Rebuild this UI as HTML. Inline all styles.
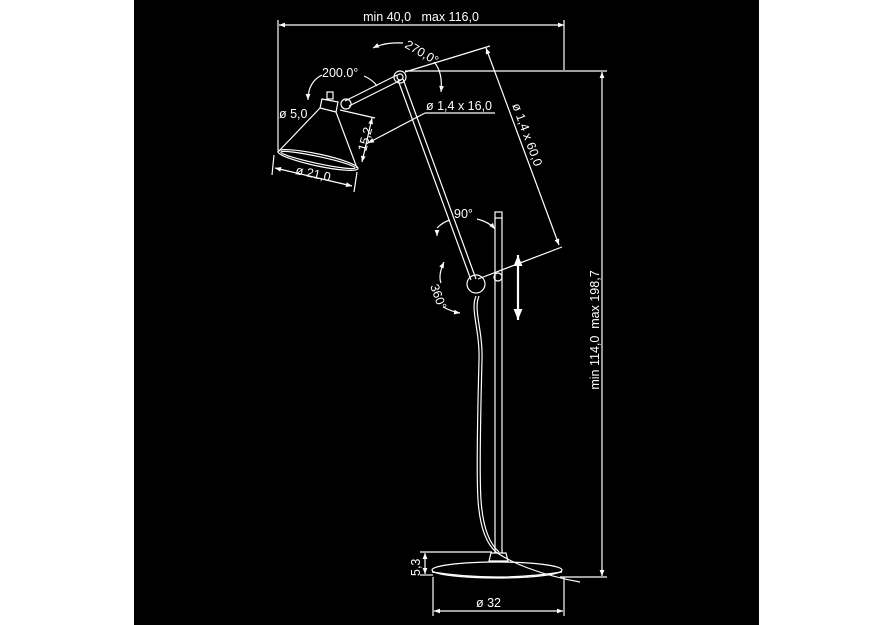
<!DOCTYPE html>
<html><head><meta charset="utf-8"><style>
html,body{margin:0;padding:0;background:#fff;}
svg{display:block;}
text{font-family:"Liberation Sans",sans-serif;fill:#fff;font-size:12.5px;}
</style></head><body>
<svg width="893" height="625" viewBox="0 0 893 625" xmlns="http://www.w3.org/2000/svg">
<defs>
<marker id="a" viewBox="0 0 10 10" refX="10" refY="5" markerWidth="7" markerHeight="5" orient="auto-start-reverse"><path d="M0,1 L10,5 L0,9 z" fill="#fff"/></marker>
</defs>
<rect x="134" y="0" width="625" height="625" fill="#000"/>
<g stroke="#fff" stroke-width="1.2" fill="none">
<line x1="279" y1="25" x2="564" y2="25" marker-start="url(#a)" marker-end="url(#a)"/>
<line x1="278" y1="20" x2="278" y2="150"/>
<line x1="564" y1="20" x2="564" y2="70"/>
<line x1="405" y1="71" x2="607" y2="71"/>
<line x1="602" y1="72" x2="602" y2="576" marker-start="url(#a)" marker-end="url(#a)"/>
<line x1="560" y1="577" x2="607" y2="577"/>
<line x1="397" y1="75" x2="345" y2="101"/>
<line x1="401" y1="80" x2="349" y2="106"/>
<line x1="398" y1="80" x2="471" y2="280"/>
<line x1="403" y1="79" x2="476" y2="279"/>
<circle cx="400" cy="77" r="6"/><circle cx="400" cy="77" r="3"/>
<circle cx="346" cy="104" r="5"/>
<circle cx="476" cy="284" r="9"/>
<rect x="495" y="212" width="7" height="6"/>
<line x1="495" y1="218" x2="495" y2="553"/>
<line x1="502" y1="218" x2="502" y2="553"/>
<circle cx="498" cy="277" r="4"/>
<rect x="327" y="92" width="6" height="7"/>
<path d="M322,99 L338,102 L336,112 L320,108 z"/>
<path d="M320,108 L278,152 M336,112 L357,168"/>
<ellipse cx="318" cy="160" rx="41" ry="6" transform="rotate(12 318 160)"/>
<ellipse cx="318" cy="160" rx="38" ry="3.5" transform="rotate(12 318 160)"/>
<line x1="275" y1="168" x2="352" y2="186" marker-start="url(#a)" marker-end="url(#a)"/>
<line x1="274" y1="155" x2="272" y2="175"/>
<line x1="357" y1="172" x2="354" y2="192"/>
<line x1="340" y1="110" x2="375" y2="118"/>
<line x1="372" y1="118" x2="362" y2="162" marker-start="url(#a)" marker-end="url(#a)"/>
<line x1="425" y1="113" x2="495" y2="113"/>
<line x1="425" y1="113" x2="368" y2="143" marker-end="url(#a)"/>
<line x1="405" y1="72" x2="490" y2="46"/>
<line x1="478" y1="279" x2="562" y2="247"/>
<line x1="486" y1="48" x2="559" y2="245" marker-start="url(#a)" marker-end="url(#a)"/>
<path d="M403,43 Q385,42 373,48" marker-end="url(#a)"/>
<path d="M434,62 Q443,72 441,92" marker-end="url(#a)"/>
<path d="M322,75 Q308,82 308,100" marker-end="url(#a)"/>
<path d="M364,76 Q373,80 377,86"/>
<path d="M437,228 Q443,222 450,220"/>
<path d="M437,234 L437,236" marker-end="url(#a)"/>
<path d="M477,219 Q489,222 495,229" marker-end="url(#a)"/>
<path d="M444,262 Q438,275 441,283" marker-start="url(#a)"/>
<path d="M443,307 Q453,312 460,313" marker-end="url(#a)"/>
<line x1="518" y1="255" x2="518" y2="320" stroke-width="2.2" marker-start="url(#a)" marker-end="url(#a)"/>
<path d="M476,296 C470,310 480,330 479,360 C478,400 476,470 478,500 C480,530 488,545 496,552 C510,562 540,575 580,582"/>
<path d="M479,296 C473,310 483,330 482,360 C481,400 479,470 481,500 C483,530 491,545 499,552"/>
<path d="M491,553 L506,553 L508,561 L489,561 z"/>
<ellipse cx="497" cy="570" rx="65" ry="8"/>
<path d="M432,572 Q497,582 562,572"/>
<line x1="420" y1="552" x2="492" y2="552"/>
<line x1="420" y1="575" x2="433" y2="575"/>
<line x1="425" y1="553" x2="425" y2="574" marker-start="url(#a)" marker-end="url(#a)"/>
<line x1="433" y1="577" x2="433" y2="616"/>
<line x1="564" y1="577" x2="564" y2="616"/>
<line x1="434" y1="611" x2="563" y2="611" marker-start="url(#a)" marker-end="url(#a)"/>
</g>
<text x="421" y="21" text-anchor="middle">min 40,0&#160;&#160;&#160;max 116,0</text>
<text transform="translate(599,330) rotate(-90)" text-anchor="middle">min 114,0&#160;&#160;max 198,7</text>
<text transform="translate(404,47) rotate(30)">270,0°</text>
<text x="322" y="77">200.0°</text>
<text x="279" y="118">ø 5,0</text>
<text x="426" y="110">ø 1,4 x 16,0</text>
<text transform="translate(512,105) rotate(70)">ø 1,4 x 60,0</text>
<text transform="translate(366,152) rotate(-75)">15,2</text>
<text transform="translate(295,174) rotate(12)">ø 21,0</text>
<text x="454" y="218">90°</text>
<text transform="translate(430,286) rotate(70)">360°</text>
<text transform="translate(420,576) rotate(-90)">5,3</text>
<text x="476" y="607">ø 32</text>
</svg>
</body></html>
